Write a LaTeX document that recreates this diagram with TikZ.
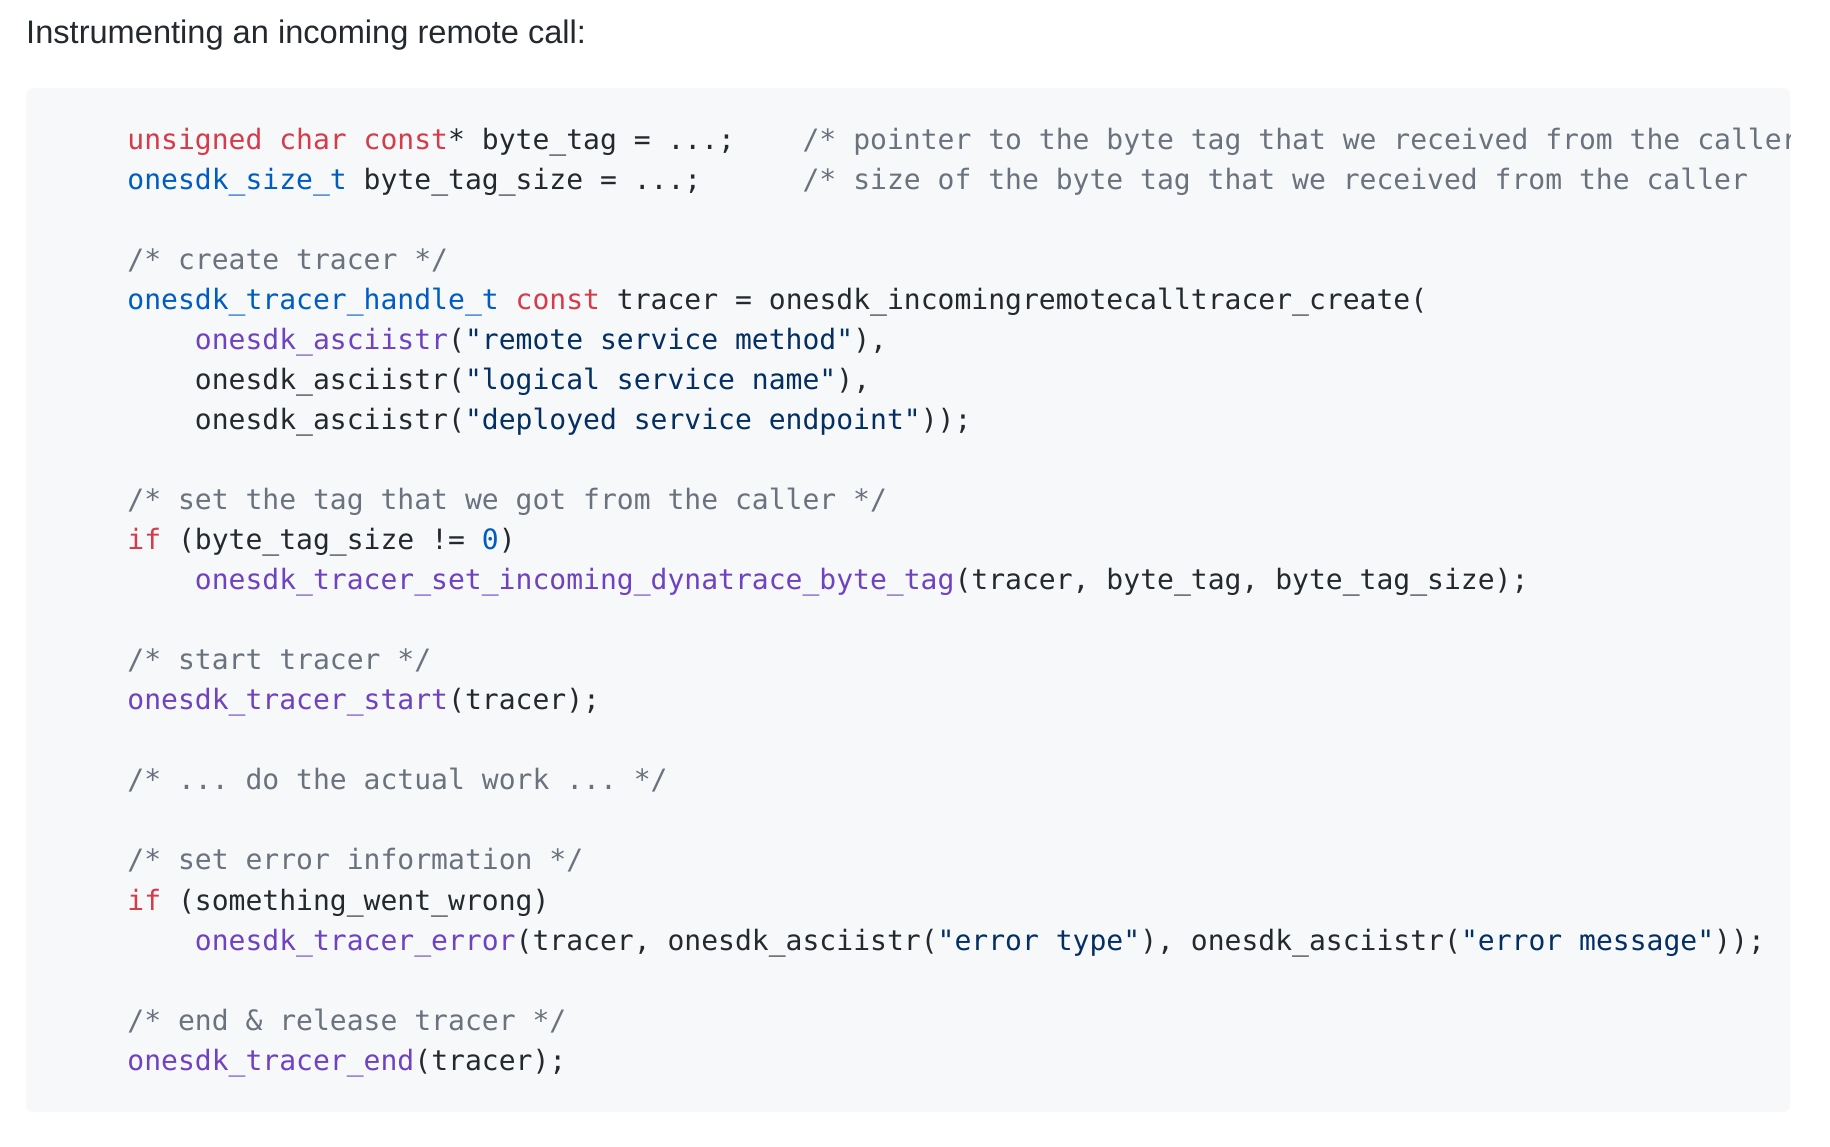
\documentclass[tikz,border=0pt]{standalone}
\usepackage{fontspec}
\setmainfont{Liberation Sans}
\newfontfamily\codefont{DejaVu Sans Mono}
\usetikzlibrary{positioning}

\definecolor{codebg}{HTML}{F6F8FA}
\definecolor{plain}{HTML}{24292E}
\definecolor{keyword}{HTML}{D73A49}
\definecolor{typename}{HTML}{005CC5}
\definecolor{funcname}{HTML}{6F42C1}
\definecolor{strlit}{HTML}{032F62}
\definecolor{comment}{HTML}{6A737D}

\newcommand{\kw}[1]{\textcolor{keyword}{#1}}
\newcommand{\ty}[1]{\textcolor{typename}{#1}}
\newcommand{\fn}[1]{\textcolor{funcname}{#1}}
\newcommand{\st}[1]{\textcolor{strlit}{#1}}
\newcommand{\cm}[1]{\textcolor{comment}{#1}}

\begin{document}
\frenchspacing
\begin{tikzpicture}[x=1pt,y=-1pt,
                    code/.style={anchor=base west,inner sep=0pt,text=plain,
                      font=\codefont\fontsize{28.04pt}{34pt}\selectfont},
                    note/.style={code,text=comment}]
  \useasboundingbox (0,0) rectangle (1830,1146);

  \node[anchor=base west,inner sep=0pt,text=plain,
        font=\fontsize{32.6pt}{38pt}\selectfont] (title) at (26,43.3)
        {Instrumenting an incoming remote call:};

  \fill[codebg,rounded corners=7pt] (26,88) rectangle (1790,1112);

  \begin{scope}
  \clip[rounded corners=7pt] (26,88) rectangle (1790,1112);
  % declarations
  \node[code] (l0)  at (127.2,149)  {\kw{unsigned char const}* byte\_tag = ...;};
  \node[note] (c0)  at (802.4,149)  {/* pointer to the byte tag that we received from the caller};
  \node[code] (l1)  at (127.2,189.1) {\ty{onesdk\_size\_t} byte\_tag\_size = ...;};
  \node[note] (c1)  at (802.4,189.1) {/* size of the byte tag that we received from the caller};

  % create
  \node[note] (l3)  at (127.2,269.2) {/* create tracer */};
  \node[code] (l4)  at (127.2,309.2) {\ty{onesdk\_tracer\_handle\_t} \kw{const} tracer = onesdk\_incomingremotecalltracer\_create(};
  \node[code] (l5)  at (194.7,349.3) {\fn{onesdk\_asciistr}(\st{"remote service method"}),};
  \node[code] (l6)  at (194.7,389.3) {onesdk\_asciistr(\st{"logical service name"}),};
  \node[code] (l7)  at (194.7,429.4) {onesdk\_asciistr(\st{"deployed service endpoint"}));};

  % tag
  \node[note] (l9)  at (127.2,509.5) {/* set the tag that we got from the caller */};
  \node[code] (l10) at (127.2,549.5) {\kw{if} (byte\_tag\_size != \ty{0})};
  \node[code] (l11) at (194.7,589.6) {\fn{onesdk\_tracer\_set\_incoming\_dynatrace\_byte\_tag}(tracer, byte\_tag, byte\_tag\_size);};

  % start
  \node[note] (l13) at (127.2,669.7) {/* start tracer */};
  \node[code] (l14) at (127.2,709.7) {\fn{onesdk\_tracer\_start}(tracer);};

  \node[note] (l16) at (127.2,789.8) {/* ... do the actual work ... */};

  % error
  \node[note] (l18) at (127.2,869.9) {/* set error information */};
  \node[code] (l19) at (127.2,910.0) {\kw{if} (something\_went\_wrong)};
  \node[code] (l20) at (194.7,950.0) {\fn{onesdk\_tracer\_error}(tracer, onesdk\_asciistr(\st{"error type"}), onesdk\_asciistr(\st{"error message"}));};

  % end
  \node[note] (l22) at (127.2,1030.1) {/* end \& release tracer */};
  \node[code] (l23) at (127.2,1070.2) {\fn{onesdk\_tracer\_end}(tracer);};
  \end{scope}
\end{tikzpicture}
\end{document}
